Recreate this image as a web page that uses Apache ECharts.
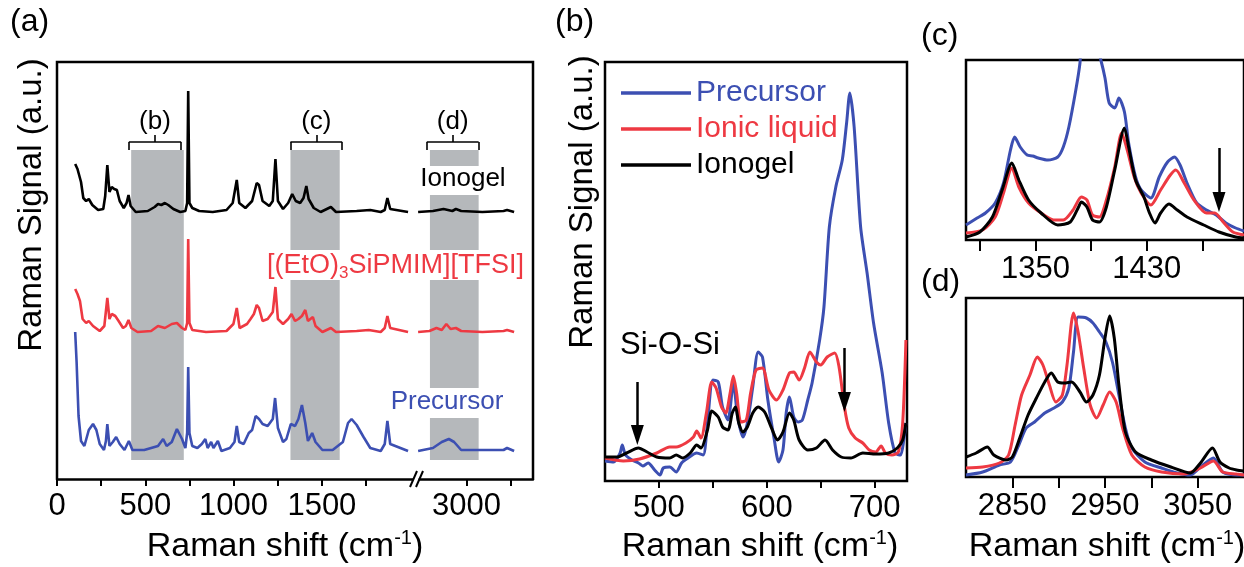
<!DOCTYPE html>
<html><head><meta charset="utf-8">
<script src="https://cdn.jsdelivr.net/npm/echarts@6/dist/echarts.min.js"></script>
<style>html,body{margin:0;padding:0;background:#fff}#c{width:1244px;height:567px}</style>
</head><body><div id="c"></div>
<script>
// ---------- DATA (x: Raman shift cm^-1, y: signal a.u. with vertical offsets) ----------
// Panel (a) left segment
const aGelL = [[103,315],[116,310],[126,308],[136,297],[149,281],[165,278],[180,280],[200,274],[233,269],[262,270],[273,283],[285,314],[297,287],[310,292],[324,290],[339,289],[355,278],[378,271],[394,276],[405,284],[417,273],[446,267],[514,268],[553,272],[572,275],[591,274],[611,276],[630,274],[659,270],[698,267],[727,268],[737,276],[743,388],[750,276],[766,271],[805,268],[882,267],[960,269],[995,276],[1018,299],[1032,276],[1067,271],[1105,278],[1131,296],[1144,294],[1164,278],[1202,273],[1222,278],[1237,320],[1251,278],[1280,270],[1309,276],[1332,285],[1352,278],[1377,276],[1396,281],[1412,293],[1425,280],[1454,271],[1493,267],[1551,272],[1580,267],[1697,268],[1774,269],[1833,267],[1856,269],[1871,281],[1887,270],[1988,267]];
const aGelR = [[2726,267],[2810,268],[2870,270],[2920,268],[2940,270],[2970,268],[3090,267],[3210,268],[3230,269],[3270,267]];
const aIonL = [[103,190],[116,185],[130,178],[145,160],[165,156],[180,158],[204,153],[242,148],[268,153],[285,181],[297,160],[310,165],[330,163],[349,158],[374,151],[390,153],[405,159],[421,151],[456,147],[533,148],[572,153],[611,151],[650,155],[679,156],[708,151],[727,149],[737,156],[743,240],[750,156],[766,149],[844,147],[960,148],[999,155],[1018,171],[1034,151],[1076,155],[1096,160],[1115,165],[1131,174],[1144,171],[1164,158],[1193,160],[1222,167],[1237,192],[1251,160],[1280,155],[1309,160],[1328,165],[1348,158],[1367,160],[1387,163],[1406,169],[1421,158],[1435,160],[1449,162],[1464,153],[1503,147],[1551,151],[1580,147],[1697,148],[1765,149],[1833,147],[1856,151],[1871,163],[1887,151],[1988,147]];
const aIonR = [[2726,147],[2790,148],[2830,151],[2860,149],[2886,155],[2910,150],[2940,151],[2970,148],[3090,147],[3210,148],[3230,149],[3270,147]];
const aPreL = [[103,147],[111,117],[122,63],[136,38],[155,33],[180,49],[204,55],[223,49],[242,35],[266,29],[277,38],[285,55],[297,33],[316,37],[335,42],[355,35],[382,29],[407,38],[427,29],[494,29],[572,33],[601,40],[621,33],[650,37],[679,50],[708,40],[727,31],[737,46],[743,112],[750,46],[766,33],[795,31],[820,35],[840,40],[853,31],[873,37],[886,31],[911,38],[931,28],[979,31],[1005,37],[1018,53],[1032,37],[1057,35],[1086,46],[1105,49],[1125,63],[1144,60],[1164,55],[1193,53],[1222,60],[1235,81],[1251,51],[1280,37],[1299,40],[1324,55],[1348,53],[1367,60],[1387,74],[1406,56],[1421,38],[1445,46],[1464,37],[1503,29],[1561,29],[1619,37],[1648,56],[1668,60],[1697,54],[1736,42],[1774,31],[1833,28],[1856,35],[1871,58],[1887,35],[1988,28]];
const aPreR = [[2726,28],[2810,31],[2860,37],[2900,40],[2930,37],[2970,29],[3090,29],[3210,29],[3230,31],[3270,28]];
// shaded windows in (a): [x0, y0, x1, y1]
const shadeL = [[420,19,718,329],[1322,229,1601,329],[1322,19,1601,199]];
const shadeR = [[2793,313,3069,329],[2793,229,3069,284],[2793,91,3069,199],[2793,19,3069,61]];
// brackets: [x0, x1, label]
const bracketsL = [[407,703,'(b)'],[1322,1615,'(c)']];
const bracketsR = [[2775,3069,'(d)']];

// Panel (b)
const bPre = [[450,20],[458,19],[464,28],[466,36],[469,26],[475,21],[481,18],[485,15],[490,18],[496,11],[501,6],[504,13],[510,14],[516,9],[521,18],[527,23],[535,28],[541,26],[545,58],[550,101],[555,99],[559,74],[564,61],[569,98],[573,64],[578,44],[582,58],[587,94],[592,129],[596,124],[601,81],[607,41],[611,19],[615,31],[618,68],[621,84],[625,64],[629,59],[633,61],[638,81],[642,98],[649,141],[653,174],[658,254],[664,294],[670,321],[674,358],[677,388],[681,354],[687,254],[693,208],[699,158],[707,108],[713,58],[719,28],[724,26],[727,41],[729,58]];
const bIon = [[450,23],[467,20],[482,22],[498,28],[510,34],[516,34],[525,38],[532,44],[535,50],[539,43],[544,68],[549,99],[553,93],[558,74],[562,68],[566,88],[569,105],[572,88],[576,59],[581,61],[585,88],[590,111],[596,113],[602,91],[609,81],[615,91],[621,108],[625,109],[630,101],[635,113],[640,129],[646,119],[650,116],[656,124],[663,128],[667,114],[672,74],[676,53],[682,43],[689,38],[695,31],[701,29],[706,35],[710,28],[716,26],[722,29],[726,58],[729,141]];
const bGel = [[450,24],[461,24],[470,28],[481,33],[489,29],[498,24],[510,23],[516,26],[522,23],[529,28],[535,36],[539,33],[545,51],[549,70],[555,64],[559,54],[564,51],[568,68],[571,74],[574,58],[578,49],[582,54],[587,68],[592,74],[598,69],[604,54],[610,41],[615,49],[621,68],[625,61],[630,41],[638,31],[646,33],[654,41],[661,31],[669,24],[678,23],[689,28],[701,27],[713,28],[721,33],[726,41],[729,58]];
const bArrows = [[480,99,46],[672,133,79]];

// Panel (c)
const cPre = [[1300,15],[1308,22],[1314,27],[1321,37],[1327,57],[1332,90],[1335,103],[1339,93],[1344,85],[1348,84],[1352,82],[1359,80],[1366,83],[1370,93],[1374,113],[1379,150],[1382,177],[1384,210],[1391,210],[1397,180],[1400,162],[1403,137],[1407,132],[1410,142],[1414,128],[1417,97],[1422,63],[1426,50],[1433,42],[1439,63],[1445,78],[1450,83],[1454,75],[1459,57],[1466,37],[1473,30],[1480,25],[1487,17],[1494,12],[1500,9]];
const cIon = [[1300,7],[1312,10],[1321,23],[1327,47],[1333,72],[1338,53],[1345,37],[1354,27],[1363,20],[1370,20],[1377,30],[1383,43],[1387,40],[1391,25],[1396,23],[1401,40],[1407,73],[1412,107],[1416,90],[1421,63],[1426,47],[1433,35],[1440,50],[1447,65],[1451,70],[1457,57],[1464,40],[1473,27],[1479,27],[1485,18],[1492,8],[1500,5]];
const cGel = [[1300,3],[1310,8],[1319,23],[1326,50],[1333,77],[1338,60],[1345,40],[1354,27],[1366,15],[1375,18],[1381,33],[1383,38],[1387,33],[1391,20],[1396,18],[1401,33],[1407,70],[1414,112],[1417,93],[1422,60],[1428,43],[1432,27],[1436,17],[1440,27],[1446,36],[1452,30],[1459,23],[1471,15],[1482,8],[1494,3],[1500,2]];
const cArrows = [[1482,92,38]];

// Panel (d)
const dPre = [[2800,2],[2818,5],[2836,12],[2848,15],[2857,32],[2865,49],[2874,55],[2885,64],[2895,69],[2904,75],[2911,89],[2916,125],[2921,160],[2930,159],[2937,154],[2944,145],[2951,135],[2958,115],[2965,82],[2972,49],[2979,29],[2993,15],[3011,9],[3028,4],[3042,2],[3053,10],[3067,19],[3077,5],[3092,2],[3100,2]];
const dIon = [[2800,9],[2818,10],[2836,14],[2846,22],[2853,52],[2860,82],[2869,102],[2877,120],[2883,112],[2890,92],[2897,75],[2904,82],[2909,112],[2916,164],[2921,145],[2927,109],[2934,72],[2941,59],[2948,72],[2955,85],[2962,75],[2969,49],[2979,22],[2993,10],[3011,5],[3035,3],[3053,9],[3067,16],[3077,5],[3092,3],[3100,2]];
const dGel = [[2800,20],[2811,24],[2823,30],[2830,22],[2843,17],[2850,20],[2858,39],[2867,62],[2876,79],[2885,95],[2892,104],[2899,95],[2906,94],[2914,95],[2923,85],[2930,75],[2937,82],[2944,102],[2950,139],[2955,161],[2960,139],[2965,92],[2972,45],[2983,25],[3000,17],[3021,10],[3042,4],[3053,14],[3066,29],[3074,15],[3084,9],[3092,7],[3100,6]];

// Axis ticks / labels
const aTicksL = [0,250,500,750,1000,1250,1500,1750];
const aLabelsL = [0,500,1000,1500];
const aTicksR = [3000,3250];
const aLabelsR = [3000];
const bTicks = [500,550,600,650,700];
const bLabels = [500,600,700];
const cTicks = [1310,1350,1390,1430,1470];
const cLabels = [1350,1430];
const dTicks = [2850,2900,2950,3000,3050];
const dLabels = [2850,2950,3050];

// ---------- STYLE ----------
const FONT = 'Liberation Sans, Arial, sans-serif';
const BLUE = '#3c4fb2', RED = '#ee3942', BLACK = '#000000', SHADE = '#b5b8bb';

const chart = echarts.init(document.getElementById('c'), null, {renderer:'canvas'});

function xAx(gi, min, max, ticks, labels, tickLen, margin, showLine) {
  return {
    type:'value', gridIndex:gi, min:min, max:max,
    splitLine:{show:false},
    axisLine:{show:showLine, onZero:false, lineStyle:{color:BLACK, width:2.5}},
    axisTick:{show:true, inside:false, length:tickLen, customValues:ticks, lineStyle:{color:BLACK, width:2}},
    axisLabel:{customValues:labels, fontSize:31, fontFamily:FONT, color:BLACK, margin:margin,
      formatter:function(v){ return String(v); }}
  };
}
function yAx(gi, max) { return {type:'value', gridIndex:gi, min:0, max:max, show:false}; }
function line(name, gi, data, color, width, smooth, extra) {
  return Object.assign({
    name:name, type:'line', xAxisIndex:gi, yAxisIndex:gi, data:data,
    showSymbol:false, symbol:'none', smooth:smooth, z:3,
    lineStyle:{color:color, width:width}, itemStyle:{color:color},
    silent:true, animation:false, clip:true
  }, extra||{});
}
function shadeArea(list) {
  return list.map(s => [{coord:[s[0], s[1]]}, {coord:[s[2], s[3]]}]);
}
function bracketLines(list, yb) {
  const out = [];
  list.forEach(b => {
    const m = (b[0]+b[1])/2;
    out.push([{coord:[b[0], yb]}, {coord:[b[1], yb]}]);
    out.push([{coord:[b[0], yb]}, {coord:[b[0], yb-8]}]);
    out.push([{coord:[b[1], yb]}, {coord:[b[1], yb-8]}]);
    out.push([{coord:[m, yb]}, {coord:[m, yb+7]}]);
  });
  return out;
}
function bracketLabels(list, yl) {
  return list.map(b => ({coord:[(b[0]+b[1])/2, yl], symbol:'circle', symbolSize:0,
    label:{show:true, formatter:b[2], fontSize:26, fontFamily:FONT, color:BLACK, position:'inside'}}));
}
function arrows(list) {
  return {
    silent:true, symbol:['none','triangle'], symbolSize:[13,20], symbolOffset:[0,0],
    lineStyle:{color:BLACK, width:2.5, type:'solid'}, itemStyle:{color:BLACK},
    label:{show:false}, emphasis:{disabled:true},
    data:list.map(a => [{coord:[a[0], a[1]]}, {coord:[a[0], a[2]]}])
  };
}
function helper(gi, shade, brackets) {
  return {
    name:'helper'+gi, type:'line', xAxisIndex:gi, yAxisIndex:gi, data:[], z:1, silent:true,
    markArea:{silent:true, itemStyle:{color:SHADE}, label:{show:false}, data:shadeArea(shade)},
    markLine:{silent:true, symbol:['none','none'], label:{show:false}, emphasis:{disabled:true},
      lineStyle:{color:BLACK, width:1.6, type:'solid'}, data:bracketLines(brackets, 337)},
    markPoint:{silent:true, data:bracketLabels(brackets, 357)}
  };
}
const titleRich = {a:{fontSize:34, fontFamily:FONT, fill:BLACK, lineHeight:38}, s:{fontSize:20, fontFamily:FONT, fill:BLACK, lineHeight:18, verticalAlign:'top'}};

const option = {
  animation:false,
  backgroundColor:'#fff',
  grid:[
    {left:57, top:62, width:356, height:417},
    {left:419, top:62, width:114, height:417},
    {left:605, top:62, width:302, height:419, show:true, borderColor:BLACK, borderWidth:2.5},
    {left:966, top:60, width:286, height:180, show:true, borderColor:BLACK, borderWidth:2.5},
    {left:966, top:298, width:286, height:179, show:true, borderColor:BLACK, borderWidth:2.5}
  ],
  xAxis:[
    xAx(0, 0, 2016, aTicksL, aLabelsL, 7, 12, true),
    xAx(1, 2731, 3377, aTicksR, aLabelsR, 7, 12, true),
    xAx(2, 450, 730, bTicks, bLabels, 7, 12, false),
    xAx(3, 1300, 1500, cTicks, cLabels, 11, 14, false),
    xAx(4, 2800, 3100, dTicks, dLabels, 11, 14, false)
  ],
  yAxis:[yAx(0,417), yAx(1,417), yAx(2,419), yAx(3,180), yAx(4,179)],
  legend:{
    orient:'vertical', left:616, top:73, itemWidth:70, itemHeight:3.5, icon:'rect',
    itemGap:6, itemStyle:{borderWidth:0}, selectedMode:false,
    textStyle:{fontSize:30, fontFamily:FONT},
    data:[
      {name:'Precursor', textStyle:{color:BLUE}},
      {name:'Ionic liquid', textStyle:{color:RED}},
      {name:'Ionogel', textStyle:{color:BLACK}}
    ]
  },
  series:[
    helper(0, shadeL, bracketsL),
    helper(1, shadeR, bracketsR),
    line('aGelL',0,aGelL,BLACK,2.6,false),
    line('aIonL',0,aIonL,RED,2.6,false),
    line('aPreL',0,aPreL,BLUE,2.6,false),
    line('aGelR',1,aGelR,BLACK,2.6,false),
    line('aIonR',1,aIonR,RED,2.6,false),
    line('aPreR',1,aPreR,BLUE,2.6,false),
    line('Precursor',2,bPre,BLUE,3,0.25),
    line('Ionic liquid',2,bIon,RED,3,0.25),
    line('Ionogel',2,bGel,BLACK,3,0.25,{markLine:arrows(bArrows)}),
    line('cPre',3,cPre,BLUE,3,0.25),
    line('cIon',3,cIon,RED,3,0.25),
    line('cGel',3,cGel,BLACK,3,0.25,{markLine:arrows(cArrows)}),
    line('dPre',4,dPre,BLUE,3,0.25),
    line('dIon',4,dIon,RED,3,0.25),
    line('dGel',4,dGel,BLACK,3,0.25)
  ],
  graphic:[
    {type:'polyline', silent:true, z:10, shape:{points:[[57,479],[57,62],[533,62],[533,479]]}, style:{stroke:BLACK, lineWidth:2.5, fill:null}},
    {type:'rect', silent:true, z:9, shape:{x:413.5,y:476,width:5,height:6}, style:{fill:'#fff'}},
    {type:'line', silent:true, z:10, shape:{x1:410,y1:487,x2:417,y2:471}, style:{stroke:BLACK, lineWidth:2}},
    {type:'line', silent:true, z:10, shape:{x1:416,y1:487,x2:423,y2:471}, style:{stroke:BLACK, lineWidth:2}},
    {type:'text', silent:true, z:10, x:10, y:6, style:{text:'(a)', fontSize:32, fontFamily:FONT, fill:BLACK}},
    {type:'text', silent:true, z:10, x:555, y:6, style:{text:'(b)', fontSize:32, fontFamily:FONT, fill:BLACK}},
    {type:'text', silent:true, z:10, x:921, y:20, style:{text:'(c)', fontSize:32, fontFamily:FONT, fill:BLACK}},
    {type:'text', silent:true, z:10, x:921, y:266, style:{text:'(d)', fontSize:32, fontFamily:FONT, fill:BLACK}},
    {type:'text', silent:true, z:10, x:32, y:205, rotation:Math.PI/2, style:{text:'Raman Signal (a.u.)', fontSize:33, fontFamily:FONT, fill:BLACK, textAlign:'center', textVerticalAlign:'middle'}},
    {type:'text', silent:true, z:10, x:583, y:202, rotation:Math.PI/2, style:{text:'Raman Signal (a.u.)', fontSize:33, fontFamily:FONT, fill:BLACK, textAlign:'center', textVerticalAlign:'middle'}},
    {type:'text', silent:true, z:10, x:285, y:547, style:{text:'{a|Raman shift (cm}{s|-1}{a|)}', textAlign:'center', textVerticalAlign:'middle', rich:titleRich}},
    {type:'text', silent:true, z:10, x:760, y:547, style:{text:'{a|Raman shift (cm}{s|-1}{a|)}', textAlign:'center', textVerticalAlign:'middle', rich:titleRich}},
    {type:'text', silent:true, z:10, x:1107, y:547, style:{text:'{a|Raman shift (cm}{s|-1}{a|)}', textAlign:'center', textVerticalAlign:'middle', rich:titleRich}},
    {type:'text', silent:true, z:10, x:463, y:179, style:{text:'Ionogel', fontSize:26, fontFamily:FONT, fill:BLACK, textAlign:'center', textVerticalAlign:'middle'}},
    {type:'text', silent:true, z:10, x:447, y:402, style:{text:'Precursor', fontSize:26, fontFamily:FONT, fill:BLUE, textAlign:'center', textVerticalAlign:'middle'}},
    {type:'text', silent:true, z:10, x:524, y:266, style:{text:'{a|[(EtO)}{s|3}{a|SiPMIM][TFSI]}', textAlign:'right', textVerticalAlign:'middle', rich:{a:{fontSize:27, fontFamily:FONT, fill:RED, lineHeight:32}, s:{fontSize:17, fontFamily:FONT, fill:RED, lineHeight:14, verticalAlign:'bottom'}}}},
    {type:'text', silent:true, z:10, x:670, y:345, style:{text:'Si-O-Si', fontSize:31, fontFamily:FONT, fill:BLACK, textAlign:'center', textVerticalAlign:'middle'}}
  ]
};
chart.setOption(option);
</script>
</body></html>
